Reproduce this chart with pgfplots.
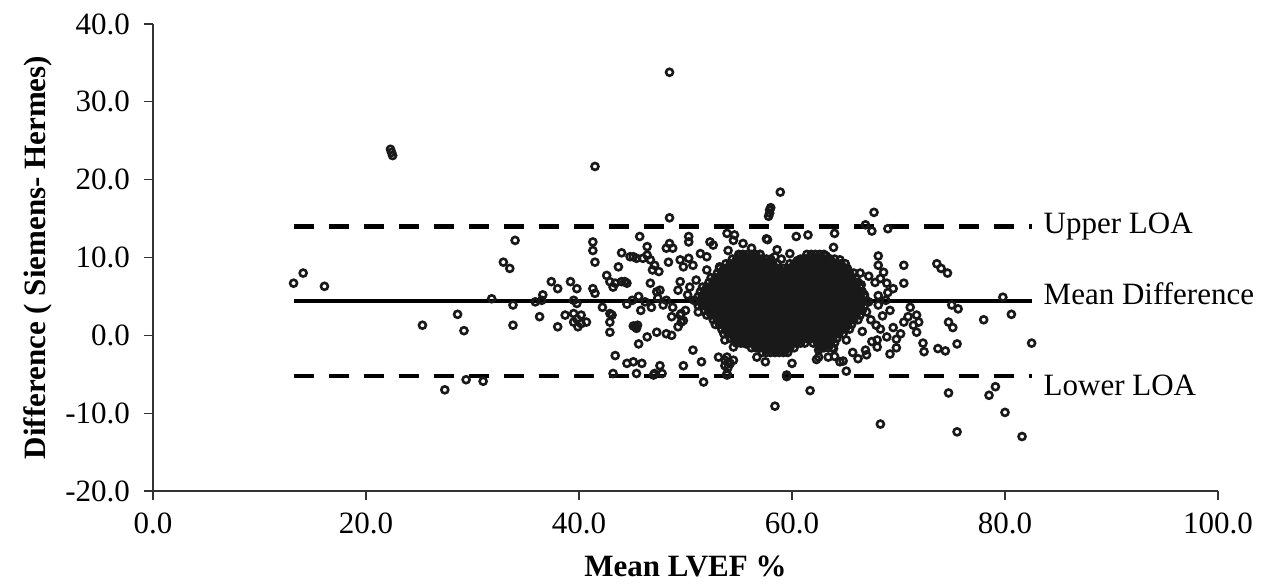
\documentclass[border=0pt]{standalone}
\usepackage{fontspec}
\setmainfont{Liberation Serif}
\usepackage{pgfplots}
\pgfplotsset{compat=1.18}
\begin{document}
\begin{tikzpicture}
\begin{axis}[
  at={(0,0)}, anchor=south west,
  scale only axis, width=532.5pt, height=233.5pt,
  xmin=0, xmax=100, ymin=-20, ymax=40,
  axis lines=left, axis line style={-, line width=0.6pt, black!80},
  xtick={0,20,40,60,80,100}, ytick={-20,-10,0,10,20,30,40},
  tick align=outside, major tick length=4.5pt,
  tick style={line width=0.6pt, black!80},
  /pgf/number format/assume math mode=true,
  /pgf/number format/.cd, fixed, fixed zerofill, precision=1, /pgfplots/.cd,
  tick label style={font=\fontsize{15.5}{18}\selectfont},
  xticklabel style={yshift=-3pt},
  yticklabel style={xshift=-3.5pt},
  xlabel={Mean LVEF \%}, ylabel={Difference ( Siemens- Hermes)},
  label style={font=\fontsize{15.5}{18}\selectfont\bfseries},
  xlabel style={at={(axis description cs:0.5,-0.184)}, anchor=base},
  ylabel style={at={(axis description cs:-0.1014,0.5)}, anchor=base},
  clip=false,
  every axis plot/.append style={},
]
% dense core of the cluster
\addplot[only marks, mark=o, mark size=1.75pt, mark options={line width=1.3pt, draw=black!90}] coordinates {
(55.0,10.4)(55.4,10.4)(55.8,10.4)(56.2,10.4)(56.6,10.4)(57.0,10.4)(61.4,10.4)(61.8,10.4)(62.2,10.4)(62.6,10.4)(63.0,10.4)
(54.4,9.8)(54.8,9.8)(55.2,9.8)(55.6,9.8)(56.0,9.8)(56.4,9.8)(56.8,9.8)(57.2,9.8)(57.6,9.8)(58.0,9.8)(60.8,9.8)(61.2,9.8)(61.6,9.8)(62.0,9.8)(62.4,9.8)(62.8,9.8)(63.2,9.8)(63.6,9.8)(64.0,9.8)
(53.8,9.2)(54.2,9.2)(54.6,9.2)(55.0,9.2)(55.4,9.2)(55.8,9.2)(56.2,9.2)(56.6,9.2)(57.0,9.2)(57.4,9.2)(57.8,9.2)(58.2,9.2)(58.6,9.2)(59.8,9.2)(60.2,9.2)(60.6,9.2)(61.0,9.2)(61.4,9.2)(61.8,9.2)(62.2,9.2)(62.6,9.2)(63.0,9.2)(63.4,9.2)(63.8,9.2)(64.2,9.2)(64.6,9.2)(65.0,9.2)
(53.2,8.6)(53.6,8.6)(54.0,8.6)(54.4,8.6)(54.8,8.6)(55.2,8.6)(55.6,8.6)(56.0,8.6)(56.4,8.6)(56.8,8.6)(57.2,8.6)(57.6,8.6)(58.0,8.6)(58.4,8.6)(58.8,8.6)(59.2,8.6)(59.6,8.6)(60.0,8.6)(60.4,8.6)(60.8,8.6)(61.2,8.6)(61.6,8.6)(62.0,8.6)(62.4,8.6)(62.8,8.6)(63.2,8.6)(63.6,8.6)(64.0,8.6)(64.4,8.6)(64.8,8.6)(65.2,8.6)
(53.0,8.0)(53.4,8.0)(53.8,8.0)(54.2,8.0)(54.6,8.0)(55.0,8.0)(55.4,8.0)(55.8,8.0)(56.2,8.0)(56.6,8.0)(57.0,8.0)(57.4,8.0)(57.8,8.0)(58.2,8.0)(58.6,8.0)(59.0,8.0)(59.4,8.0)(59.8,8.0)(60.2,8.0)(60.6,8.0)(61.0,8.0)(61.4,8.0)(61.8,8.0)(62.2,8.0)(62.6,8.0)(63.0,8.0)(63.4,8.0)(63.8,8.0)(64.2,8.0)(64.6,8.0)(65.0,8.0)(65.4,8.0)(65.8,8.0)
(52.4,7.4)(52.8,7.4)(53.2,7.4)(53.6,7.4)(54.0,7.4)(54.4,7.4)(54.8,7.4)(55.2,7.4)(55.6,7.4)(56.0,7.4)(56.4,7.4)(56.8,7.4)(57.2,7.4)(57.6,7.4)(58.0,7.4)(58.4,7.4)(58.8,7.4)(59.2,7.4)(59.6,7.4)(60.0,7.4)(60.4,7.4)(60.8,7.4)(61.2,7.4)(61.6,7.4)(62.0,7.4)(62.4,7.4)(62.8,7.4)(63.2,7.4)(63.6,7.4)(64.0,7.4)(64.4,7.4)(64.8,7.4)(65.2,7.4)(65.6,7.4)(66.0,7.4)
(52.2,6.8)(52.6,6.8)(53.0,6.8)(53.4,6.8)(53.8,6.8)(54.2,6.8)(54.6,6.8)(55.0,6.8)(55.4,6.8)(55.8,6.8)(56.2,6.8)(56.6,6.8)(57.0,6.8)(57.4,6.8)(57.8,6.8)(58.2,6.8)(58.6,6.8)(59.0,6.8)(59.4,6.8)(59.8,6.8)(60.2,6.8)(60.6,6.8)(61.0,6.8)(61.4,6.8)(61.8,6.8)(62.2,6.8)(62.6,6.8)(63.0,6.8)(63.4,6.8)(63.8,6.8)(64.2,6.8)(64.6,6.8)(65.0,6.8)(65.4,6.8)(65.8,6.8)(66.2,6.8)
(51.6,6.2)(52.0,6.2)(52.4,6.2)(52.8,6.2)(53.2,6.2)(53.6,6.2)(54.0,6.2)(54.4,6.2)(54.8,6.2)(55.2,6.2)(55.6,6.2)(56.0,6.2)(56.4,6.2)(56.8,6.2)(57.2,6.2)(57.6,6.2)(58.0,6.2)(58.4,6.2)(58.8,6.2)(59.2,6.2)(59.6,6.2)(60.0,6.2)(60.4,6.2)(60.8,6.2)(61.2,6.2)(61.6,6.2)(62.0,6.2)(62.4,6.2)(62.8,6.2)(63.2,6.2)(63.6,6.2)(64.0,6.2)(64.4,6.2)(64.8,6.2)(65.2,6.2)(65.6,6.2)(66.0,6.2)(66.4,6.2)
(51.4,5.6)(51.8,5.6)(52.2,5.6)(52.6,5.6)(53.0,5.6)(53.4,5.6)(53.8,5.6)(54.2,5.6)(54.6,5.6)(55.0,5.6)(55.4,5.6)(55.8,5.6)(56.2,5.6)(56.6,5.6)(57.0,5.6)(57.4,5.6)(57.8,5.6)(58.2,5.6)(58.6,5.6)(59.0,5.6)(59.4,5.6)(59.8,5.6)(60.2,5.6)(60.6,5.6)(61.0,5.6)(61.4,5.6)(61.8,5.6)(62.2,5.6)(62.6,5.6)(63.0,5.6)(63.4,5.6)(63.8,5.6)(64.2,5.6)(64.6,5.6)(65.0,5.6)(65.4,5.6)(65.8,5.6)(66.2,5.6)(66.6,5.6)
(51.2,5.0)(51.6,5.0)(52.0,5.0)(52.4,5.0)(52.8,5.0)(53.2,5.0)(53.6,5.0)(54.0,5.0)(54.4,5.0)(54.8,5.0)(55.2,5.0)(55.6,5.0)(56.0,5.0)(56.4,5.0)(56.8,5.0)(57.2,5.0)(57.6,5.0)(58.0,5.0)(58.4,5.0)(58.8,5.0)(59.2,5.0)(59.6,5.0)(60.0,5.0)(60.4,5.0)(60.8,5.0)(61.2,5.0)(61.6,5.0)(62.0,5.0)(62.4,5.0)(62.8,5.0)(63.2,5.0)(63.6,5.0)(64.0,5.0)(64.4,5.0)(64.8,5.0)(65.2,5.0)(65.6,5.0)(66.0,5.0)(66.4,5.0)(66.8,5.0)
(51.0,4.4)(51.4,4.4)(51.8,4.4)(52.2,4.4)(52.6,4.4)(53.0,4.4)(53.4,4.4)(53.8,4.4)(54.2,4.4)(54.6,4.4)(55.0,4.4)(55.4,4.4)(55.8,4.4)(56.2,4.4)(56.6,4.4)(57.0,4.4)(57.4,4.4)(57.8,4.4)(58.2,4.4)(58.6,4.4)(59.0,4.4)(59.4,4.4)(59.8,4.4)(60.2,4.4)(60.6,4.4)(61.0,4.4)(61.4,4.4)(61.8,4.4)(62.2,4.4)(62.6,4.4)(63.0,4.4)(63.4,4.4)(63.8,4.4)(64.2,4.4)(64.6,4.4)(65.0,4.4)(65.4,4.4)(65.8,4.4)(66.2,4.4)(66.6,4.4)(67.0,4.4)
(51.2,3.8)(51.6,3.8)(52.0,3.8)(52.4,3.8)(52.8,3.8)(53.2,3.8)(53.6,3.8)(54.0,3.8)(54.4,3.8)(54.8,3.8)(55.2,3.8)(55.6,3.8)(56.0,3.8)(56.4,3.8)(56.8,3.8)(57.2,3.8)(57.6,3.8)(58.0,3.8)(58.4,3.8)(58.8,3.8)(59.2,3.8)(59.6,3.8)(60.0,3.8)(60.4,3.8)(60.8,3.8)(61.2,3.8)(61.6,3.8)(62.0,3.8)(62.4,3.8)(62.8,3.8)(63.2,3.8)(63.6,3.8)(64.0,3.8)(64.4,3.8)(64.8,3.8)(65.2,3.8)(65.6,3.8)(66.0,3.8)(66.4,3.8)(66.8,3.8)
(51.8,3.2)(52.2,3.2)(52.6,3.2)(53.0,3.2)(53.4,3.2)(53.8,3.2)(54.2,3.2)(54.6,3.2)(55.0,3.2)(55.4,3.2)(55.8,3.2)(56.2,3.2)(56.6,3.2)(57.0,3.2)(57.4,3.2)(57.8,3.2)(58.2,3.2)(58.6,3.2)(59.0,3.2)(59.4,3.2)(59.8,3.2)(60.2,3.2)(60.6,3.2)(61.0,3.2)(61.4,3.2)(61.8,3.2)(62.2,3.2)(62.6,3.2)(63.0,3.2)(63.4,3.2)(63.8,3.2)(64.2,3.2)(64.6,3.2)(65.0,3.2)(65.4,3.2)(65.8,3.2)(66.2,3.2)(66.6,3.2)
(52.0,2.6)(52.4,2.6)(52.8,2.6)(53.2,2.6)(53.6,2.6)(54.0,2.6)(54.4,2.6)(54.8,2.6)(55.2,2.6)(55.6,2.6)(56.0,2.6)(56.4,2.6)(56.8,2.6)(57.2,2.6)(57.6,2.6)(58.0,2.6)(58.4,2.6)(58.8,2.6)(59.2,2.6)(59.6,2.6)(60.0,2.6)(60.4,2.6)(60.8,2.6)(61.2,2.6)(61.6,2.6)(62.0,2.6)(62.4,2.6)(62.8,2.6)(63.2,2.6)(63.6,2.6)(64.0,2.6)(64.4,2.6)(64.8,2.6)(65.2,2.6)(65.6,2.6)(66.0,2.6)(66.4,2.6)
(52.6,2.0)(53.0,2.0)(53.4,2.0)(53.8,2.0)(54.2,2.0)(54.6,2.0)(55.0,2.0)(55.4,2.0)(55.8,2.0)(56.2,2.0)(56.6,2.0)(57.0,2.0)(57.4,2.0)(57.8,2.0)(58.2,2.0)(58.6,2.0)(59.0,2.0)(59.4,2.0)(59.8,2.0)(60.2,2.0)(60.6,2.0)(61.0,2.0)(61.4,2.0)(61.8,2.0)(62.2,2.0)(62.6,2.0)(63.0,2.0)(63.4,2.0)(63.8,2.0)(64.2,2.0)(64.6,2.0)(65.0,2.0)(65.4,2.0)(65.8,2.0)(66.2,2.0)
(52.8,1.4)(53.2,1.4)(53.6,1.4)(54.0,1.4)(54.4,1.4)(54.8,1.4)(55.2,1.4)(55.6,1.4)(56.0,1.4)(56.4,1.4)(56.8,1.4)(57.2,1.4)(57.6,1.4)(58.0,1.4)(58.4,1.4)(58.8,1.4)(59.2,1.4)(59.6,1.4)(60.0,1.4)(60.4,1.4)(60.8,1.4)(61.2,1.4)(61.6,1.4)(62.0,1.4)(62.4,1.4)(62.8,1.4)(63.2,1.4)(63.6,1.4)(64.0,1.4)(64.4,1.4)(64.8,1.4)(65.2,1.4)(65.6,1.4)
(53.4,0.8)(53.8,0.8)(54.2,0.8)(54.6,0.8)(55.0,0.8)(55.4,0.8)(55.8,0.8)(56.2,0.8)(56.6,0.8)(57.0,0.8)(57.4,0.8)(57.8,0.8)(58.2,0.8)(58.6,0.8)(59.0,0.8)(59.4,0.8)(59.8,0.8)(60.2,0.8)(60.6,0.8)(61.0,0.8)(61.4,0.8)(61.8,0.8)(62.2,0.8)(62.6,0.8)(63.0,0.8)(63.4,0.8)(63.8,0.8)(64.2,0.8)(64.6,0.8)(65.0,0.8)(65.4,0.8)
(53.6,0.2)(54.0,0.2)(54.4,0.2)(54.8,0.2)(55.2,0.2)(55.6,0.2)(56.0,0.2)(56.4,0.2)(56.8,0.2)(57.2,0.2)(57.6,0.2)(58.0,0.2)(58.4,0.2)(58.8,0.2)(59.2,0.2)(59.6,0.2)(60.0,0.2)(60.4,0.2)(60.8,0.2)(61.2,0.2)(61.6,0.2)(62.0,0.2)(62.4,0.2)(62.8,0.2)(63.2,0.2)(63.6,0.2)(64.0,0.2)(64.4,0.2)(64.8,0.2)
(54.2,-0.4)(54.6,-0.4)(55.0,-0.4)(55.4,-0.4)(55.8,-0.4)(56.2,-0.4)(56.6,-0.4)(57.0,-0.4)(57.4,-0.4)(57.8,-0.4)(58.2,-0.4)(58.6,-0.4)(59.0,-0.4)(59.4,-0.4)(59.8,-0.4)(60.2,-0.4)(60.6,-0.4)(61.0,-0.4)(61.4,-0.4)(61.8,-0.4)(62.2,-0.4)(62.6,-0.4)(63.0,-0.4)(63.4,-0.4)(63.8,-0.4)(64.2,-0.4)
(54.8,-1.0)(55.2,-1.0)(55.6,-1.0)(56.0,-1.0)(56.4,-1.0)(56.8,-1.0)(57.2,-1.0)(57.6,-1.0)(58.0,-1.0)(58.4,-1.0)(58.8,-1.0)(59.2,-1.0)(59.6,-1.0)(60.0,-1.0)(60.4,-1.0)(60.8,-1.0)(61.2,-1.0)(62.0,-1.0)(62.4,-1.0)(62.8,-1.0)(63.2,-1.0)(63.6,-1.0)(64.0,-1.0)
(56.2,-1.6)(56.6,-1.6)(57.0,-1.6)(57.4,-1.6)(57.8,-1.6)(58.2,-1.6)(58.6,-1.6)(59.0,-1.6)(59.4,-1.6)(59.8,-1.6)(60.2,-1.6)(62.6,-1.6)(63.0,-1.6)(63.4,-1.6)(63.8,-1.6)
(57.2,-2.2)(57.6,-2.2)(58.0,-2.2)(58.4,-2.2)(58.8,-2.2)(59.2,-2.2)(59.6,-2.2)
};
% sparser points
\addplot[only marks, mark=o, mark size=1.75pt, mark options={line width=1.3pt, draw=black!90}] coordinates {
(13.2,6.7)(14.1,8.0)(16.1,6.3)(22.3,23.9)(22.4,23.5)(22.5,23.1)(25.3,1.3)(27.4,-7.0)(28.6,2.7)(29.2,0.6)(29.4,-5.7)(31.0,-5.9)(31.8,4.7)(32.9,9.4)(33.5,8.6)(33.8,1.3)(33.8,3.9)(34.0,12.2)
(35.9,4.3)(36.3,2.4)(36.5,4.5)(36.6,5.2)(37.4,6.9)(38.0,6.0)(38.0,1.1)(38.7,2.6)(39.2,6.9)(39.5,4.5)(39.5,2.8)(39.5,1.7)(39.8,6.0)(39.8,4.1)(39.8,2.1)(39.9,1.1)(40.2,2.6)(40.2,1.5)(40.7,1.7)
(41.3,12.0)(41.3,10.9)(41.5,9.4)(41.3,6.0)(41.5,5.4)(41.5,21.7)(42.2,3.6)(42.6,7.7)(42.9,6.9)(42.9,2.8)(42.9,1.7)(42.9,0.4)(43.1,2.6)(43.2,6.2)(43.2,-4.9)(43.4,6.7)(43.4,-2.6)(43.7,8.8)
(44.0,10.6)(44.0,6.9)(44.3,6.9)(44.5,6.7)(44.5,-3.6)(44.8,10.1)(45.1,10.1)(45.1,-3.4)(45.3,1.1)(45.1,1.2)(45.4,0.9)(45.5,1.3)(45.4,9.9)(45.4,-4.9)(45.6,-1.1)(45.7,12.7)(45.9,-3.6)(46.0,9.9)
(46.4,11.4)(46.4,10.3)(46.4,-0.2)(46.7,9.7)(46.7,6.7)(46.9,8.4)(47.1,9.0)(47.1,-4.9)(47.3,5.6)(47.3,0.4)(47.5,8.2)(47.6,5.8)(47.6,-3.9)(47.8,-4.9)(47.0,-5.1)(48.2,4.5)(48.2,0.2)(48.4,9.4)
(48.5,11.8)(48.2,11.2)(48.8,11.2)(48.5,15.1)(48.5,33.8)(48.7,0)(48.7,2.4)(48.8,3.6)(49.3,5.8)(49.3,1.1)(49.5,9.7)(49.5,6.9)(49.5,2.6)(49.6,1.7)(49.6,2.8)(49.8,8.8)(49.8,1.9)(49.8,-3.9)
(50.0,3.2)(50.3,12.7)(50.3,12.0)(50.3,9.9)(50.4,6.2)(50.7,9.0)(50.7,-1.9)(51.0,7.1)(51.4,10.5)(51.5,-3.4)(51.7,-6.0)(52.0,10.1)(52.0,8.4)(52.3,12.0)(52.6,11.6)(53.1,-2.8)(53.2,8.8)
(53.7,-3.2)(53.7,-3.9)(53.7,-0.6)(53.9,-4.9)(53.9,-5.1)(53.9,-2.8)(53.9,13.1)(54.0,-4.1)(54.2,-3.6)(54.5,-3.2)(54.5,-1.5)(54.5,12.2)(54.6,12.9)(54.0,10.9)(55.1,10.3)(55.1,-0.6)(55.7,9.4)(55.7,-1.1)
(56.3,9.0)(56.4,9.2)(56.7,-1.5)(56.7,-2.8)(56.7,-0.9)(57.5,-1.7)(57.6,-1.5)(57.5,-3.4)
(45.0,4.5)(45.6,5.0)(46.2,4.3)(46.8,3.6)(47.4,4.8)(47.9,3.9)(44.5,4.0)(50.8,4.5)(51.2,3.0)(50.2,5.2)(45.8,3.2)
(57.6,12.4)(57.7,12.3)(57.8,9.4)(57.9,15.7)(57.9,16.1)(58.0,16.4)(57.8,15.3)(58.4,10.1)(58.9,18.4)(58.4,-9.1)(59.3,-2.1)(59.5,-5.3)(59.5,-5.1)(59.7,-0.4)(60.0,-3.6)(60.4,0.0)(60.4,12.7)
(61.5,12.9)(61.5,0.6)(61.7,-7.1)(62.0,0.4)(62.3,-3.1)(62.5,-1.9)(62.5,-2.8)(62.6,-1.3)(62.6,-1.5)(63.4,-2.8)(63.7,9.4)(63.9,11.3)(63.9,-1.7)(64.0,13.1)(64.0,-2.7)(64.5,9.7)(64.5,-3.4)(64.8,-3.3)
(65.1,8.6)(65.1,-4.6)(65.1,-0.6)(66.9,14.2)(66.9,-1.9)(67.5,13.4)(67.7,15.8)(67.9,1.3)(68.0,-0.6)(68.1,10.2)(68.1,9.0)(68.1,5.1)(68.1,3.9)(68.3,7.3)(68.3,-11.4)(68.6,8.1)(68.9,6.7)(68.9,-0.2)
(69.0,13.7)(69.2,-2.4)(69.5,6.0)(70.5,6.7)(70.5,9.0)(70.5,1.7)(70.9,2.4)(71.1,3.6)(71.4,1.3)(71.7,0.4)(71.7,2.6)(71.9,1.7)(72.3,-1.0)(72.4,-2.1)(73.6,9.2)(73.7,-1.7)(74.0,8.6)(74.4,-2.0)
(74.6,8.0)(74.7,1.7)(74.7,-7.4)(75.0,3.9)(75.1,1.0)(75.5,-1.1)(75.5,-12.4)(75.6,3.4)(78.0,2.0)(78.5,-7.7)(79.1,-6.6)(79.8,4.9)(80.0,-9.9)(80.6,2.7)(81.6,-13.0)(82.5,-1.0)
(66.5,6.5)(66.8,5.2)(67.2,4.3)(67.0,3.0)(67.4,2.0)(66.6,0.5)(67.5,-0.8)(68.5,2.5)(68.8,4.5)(69.2,3.2)(69.5,1.0)(69.8,-0.5)(69.0,5.5)(67.8,6.8)(67.2,7.6)(66.4,8.0)(69.8,-1.6)(70.2,0.2)
(67.0,-2.5)(66.2,-3.0)(65.7,-2.2)(68.0,-1.5)(68.3,0.8)
(61.3,9.8)(62.0,10.0)(62.7,9.7)(63.2,10.2)(60.5,9.6)(59.0,9.8)(59.8,10.5)(58.6,11.0)(57.0,10.4)(56.2,11.2)(55.4,11.8)
};
% limits of agreement and mean difference
\addplot[black, line width=2.2pt, dash pattern=on 10.25pt off 7.25pt] coordinates {(13.2,14.0) (82.5,14.0)};
\addplot[black, line width=2.2pt] coordinates {(13.2,4.4) (82.5,4.4)};
\addplot[black, line width=2.2pt, dash pattern=on 10.25pt off 7.25pt] coordinates {(13.2,-5.2) (82.5,-5.2)};
\node[anchor=base west, inner sep=0pt, font=\fontsize{15.5}{18}\selectfont] at (axis cs:83.6,13.1) {Upper LOA};
\node[anchor=base west, inner sep=0pt, font=\fontsize{15.5}{18}\selectfont] at (axis cs:83.6,3.9) {Mean Difference};
\node[anchor=base west, inner sep=0pt, font=\fontsize{15.5}{18}\selectfont] at (axis cs:83.6,-7.7) {Lower LOA};
\end{axis}
\pgfresetboundingbox
\useasboundingbox (-76.5pt,-47.5pt) rectangle (556pt,245.5pt);
\end{tikzpicture}
\end{document}
